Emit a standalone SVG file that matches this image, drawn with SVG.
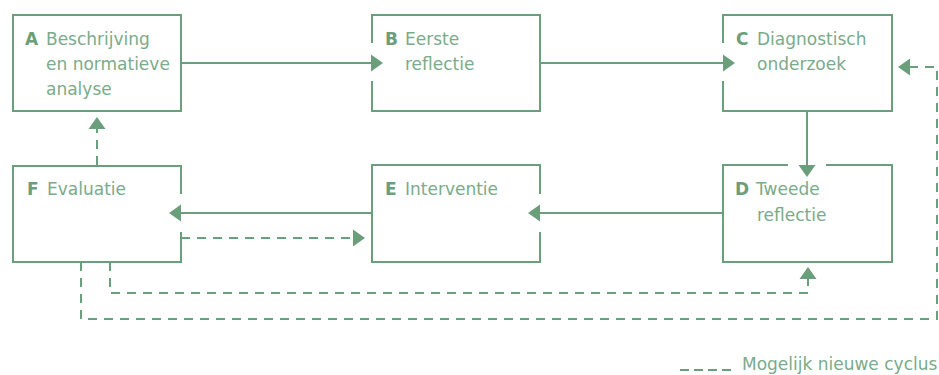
<svg xmlns="http://www.w3.org/2000/svg" width="939" height="375" viewBox="0 0 939 375">
  <style>
    .box { fill: none; stroke: #6b9e7b; stroke-width: 2; }
    .link { fill: none; stroke: #6b9e7b; stroke-width: 2; }
    .dash { stroke-dasharray: 9 7; }
    text { font-family: "DejaVu Sans", "Noto Sans", sans-serif; font-size: 17px; fill: #7aab8a; }
    .key { font-weight: bold; fill: #6b9e7b; }
  </style>
  <defs>
    <marker id="head" markerUnits="userSpaceOnUse" markerWidth="14" markerHeight="20" viewBox="0 -10 14 20" refX="0" refY="0" orient="auto">
      <path d="M0,-8.5 L12,0 L0,8.5 Z" fill="#6b9e7b"/>
    </marker>
  </defs>
  <rect width="939" height="375" fill="#ffffff"/>

  <g id="node-A">
    <rect class="box" x="13" y="15" width="168" height="96"/>
    <text class="key" x="25" y="44.5">A</text>
    <text x="46" y="44.5">Beschrijving</text>
    <text x="46" y="70">en normatieve</text>
    <text x="46" y="95">analyse</text>
  </g>

  <g id="node-B">
    <path class="box" d="M372,43 V15 H540 V111 H372 V81"/>
    <text class="key" x="385" y="44.5">B</text>
    <text x="405" y="44.5">Eerste</text>
    <text x="405" y="70">reflectie</text>
  </g>

  <g id="node-C">
    <path class="box" d="M723,43 V15 H892 V111 H723 V81"/>
    <text class="key" x="736" y="44.5">C</text>
    <text x="757" y="44.5">Diagnostisch</text>
    <text x="757" y="70">onderzoek</text>
  </g>

  <g id="node-D">
    <path class="box" d="M788,165 H723 V262 H892 V165 H826"/>
    <text class="key" x="735" y="195">D</text>
    <text x="756" y="195">Tweede</text>
    <text x="757" y="221">reflectie</text>
  </g>

  <g id="node-E">
    <path class="box" d="M540,194 V165 H372 V262 H540 V232"/>
    <text class="key" x="385" y="195">E</text>
    <text x="405" y="195">Interventie</text>
  </g>

  <g id="node-F">
    <path class="box" d="M181,194 V166 H13 V262 H181 V232"/>
    <text class="key" x="27" y="195">F</text>
    <text x="47" y="195">Evaluatie</text>
  </g>

  <g id="connectors">
    <path class="link" d="M181,63 H371" marker-end="url(#head)"/>
    <path class="link" d="M540,63 H723" marker-end="url(#head)"/>
    <path class="link" d="M807,111 V165" marker-end="url(#head)"/>
    <path class="link" d="M723,213 H540" marker-end="url(#head)"/>
    <path class="link" d="M372,213 H181" marker-end="url(#head)"/>
    <path class="link dash" d="M181,238 H353" marker-end="url(#head)"/>
    <path class="link dash" d="M97,165 V129" marker-end="url(#head)"/>
    <path class="link dash" d="M110,262 V293 H808 V279" marker-end="url(#head)"/>
    <path class="link dash" d="M81,262 V319 H937 V67 H910" marker-end="url(#head)"/>
  </g>

  <g id="legend">
    <path class="link" stroke-dasharray="9 5" d="M680,370 H731"/>
    <text x="742" y="370">Mogelijk nieuwe cyclus</text>
  </g>
</svg>
